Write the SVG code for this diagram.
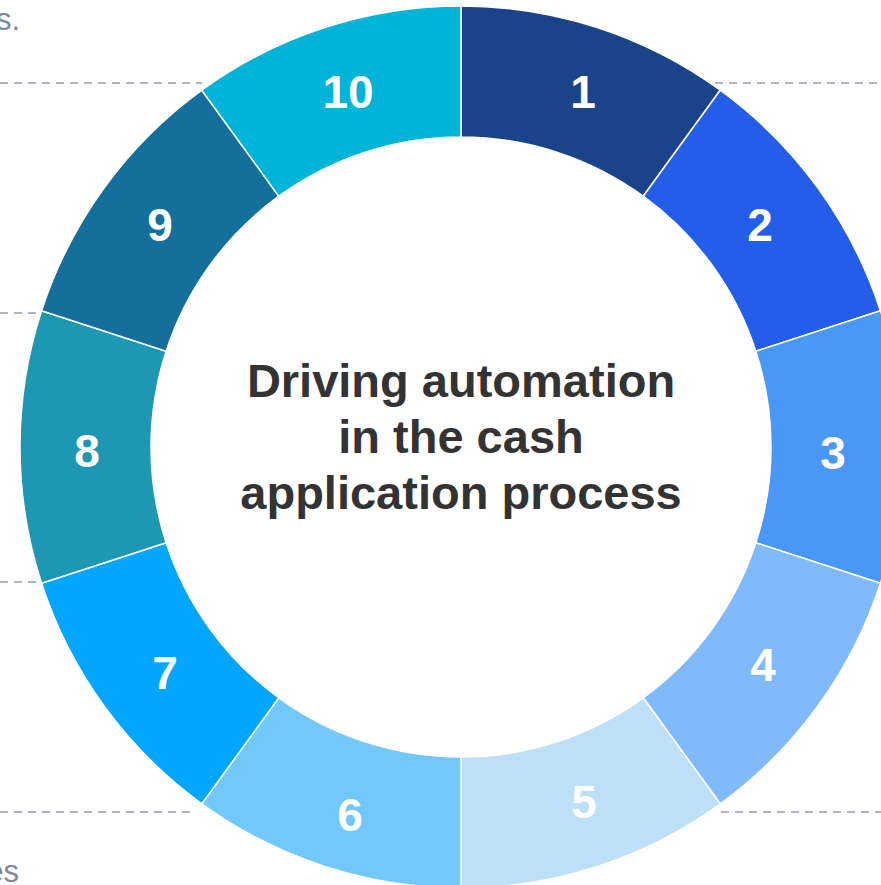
<svg xmlns="http://www.w3.org/2000/svg" width="881" height="885" viewBox="0 0 881 885">
  <style>
    .seg { stroke: #ffffff; stroke-width: 1.5; stroke-linejoin: round; }
    .num { font-family: "Liberation Sans", Arial, sans-serif; font-weight: bold; font-size: 46px; fill: #ffffff; text-anchor: middle; }
    .title { font-family: "Liberation Sans", Arial, sans-serif; font-weight: bold; font-size: 47px; fill: #333333; text-anchor: middle; }
    .side { font-family: "Liberation Sans", Arial, sans-serif; font-size: 31px; fill: #7b8b9b; text-anchor: end; }
    .guide { stroke: #aeb6bf; stroke-width: 2; stroke-dasharray: 8 6; fill: none; }
  </style>

  <rect width="881" height="885" fill="#ffffff"/>

  <!-- partial side captions -->
  <text class="side" x="20" y="30">s.</text>
  <text class="side" x="19" y="882">es</text>

  <!-- dashed guide lines -->
  <g id="connectors">
    <line class="guide" x1="0" y1="83" x2="202" y2="83"/>
    <line class="guide" x1="715" y1="83" x2="881" y2="83"/>
    <line class="guide" x1="0" y1="313" x2="41" y2="313"/>
    <line class="guide" x1="0" y1="582" x2="41" y2="582"/>
    <line class="guide" x1="0" y1="812" x2="196" y2="812"/>
    <line class="guide" x1="721" y1="812" x2="881" y2="812"/>
  </g>

  <!-- ring segments: centre (461,447), outer r 441, inner r 310 -->
  <g id="step-1">
    <path class="seg" fill="#1a4389" d="M461,6 A441,441 0 0 1 720.21,90.22 L643.21,196.2 A310,310 0 0 0 461,137 Z"/>
    <text class="num" x="583" y="108">1</text>
  </g>
  <g id="step-2">
    <path class="seg" fill="#245de8" d="M720.21,90.22 A441,441 0 0 1 880.42,310.72 L755.83,351.2 A310,310 0 0 0 643.21,196.2 Z"/>
    <text class="num" x="760" y="241">2</text>
  </g>
  <g id="step-3">
    <path class="seg" fill="#4a98f5" d="M880.42,310.72 A441,441 0 0 1 880.42,583.28 L755.83,542.8 A310,310 0 0 0 755.83,351.2 Z"/>
    <text class="num" x="833" y="469">3</text>
  </g>
  <g id="step-4">
    <path class="seg" fill="#80bafa" d="M880.42,583.28 A441,441 0 0 1 720.21,803.78 L643.21,697.8 A310,310 0 0 0 755.83,542.8 Z"/>
    <text class="num" x="763" y="681">4</text>
  </g>
  <g id="step-5">
    <path class="seg" fill="#bde0f8" d="M720.21,803.78 A441,441 0 0 1 461,888 L461,757 A310,310 0 0 0 643.21,697.8 Z"/>
    <text class="num" x="584" y="818">5</text>
  </g>
  <g id="step-6">
    <path class="seg" fill="#72c8fa" d="M461,888 A441,441 0 0 1 201.79,803.78 L278.79,697.8 A310,310 0 0 0 461,757 Z"/>
    <text class="num" x="350" y="831">6</text>
  </g>
  <g id="step-7">
    <path class="seg" fill="#02a6fc" d="M201.79,803.78 A441,441 0 0 1 41.58,583.28 L166.17,542.8 A310,310 0 0 0 278.79,697.8 Z"/>
    <text class="num" x="165" y="689">7</text>
  </g>
  <g id="step-8">
    <path class="seg" fill="#1e98b2" d="M41.58,583.28 A441,441 0 0 1 41.58,310.72 L166.17,351.2 A310,310 0 0 0 166.17,542.8 Z"/>
    <text class="num" x="87" y="467">8</text>
  </g>
  <g id="step-9">
    <path class="seg" fill="#146f9c" d="M41.58,310.72 A441,441 0 0 1 201.79,90.22 L278.79,196.2 A310,310 0 0 0 166.17,351.2 Z"/>
    <text class="num" x="160" y="241">9</text>
  </g>
  <g id="step-10">
    <path class="seg" fill="#00b4d8" d="M201.79,90.22 A441,441 0 0 1 461,6 L461,137 A310,310 0 0 0 278.79,196.2 Z"/>
    <text class="num" x="348" y="108">10</text>
  </g>

  <!-- centre caption -->
  <g id="centre">
    <text class="title" x="461" y="397">Driving automation</text>
    <text class="title" x="461" y="453">in the cash</text>
    <text class="title" x="461" y="509">application process</text>
  </g>
</svg>
